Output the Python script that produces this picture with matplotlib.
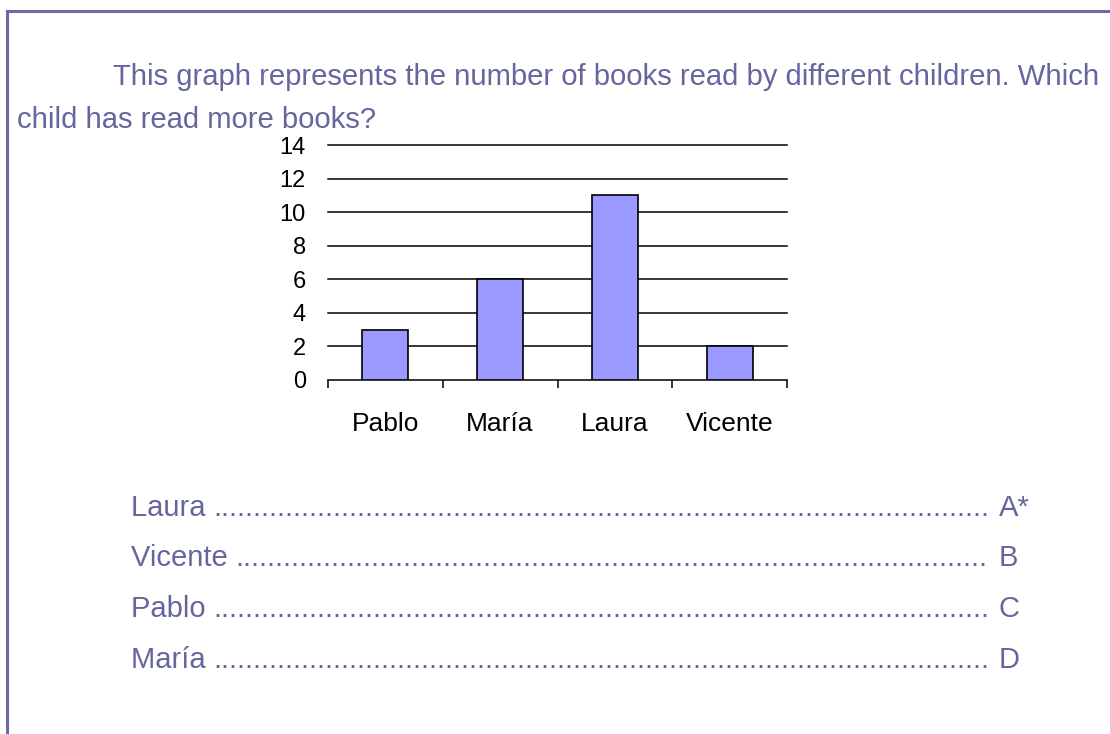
import matplotlib.pyplot as plt
from matplotlib.lines import Line2D

plt.rcParams['font.family'] = ['Liberation Sans', 'DejaVu Sans']

# books read per child
children = ['Pablo', 'María', 'Laura', 'Vicente']
books = [3, 6, 11, 2]
y_ticks = [0, 2, 4, 6, 8, 10, 12, 14]

# answer options
options = ['Laura', 'Vicente', 'Pablo', 'María']
option_keys = ['A*', 'B', 'C', 'D']

question_1 = 'This graph represents the number of books read by different children. Which'
question_2 = 'child has read more books?'

W, H = 1110, 734
text_color = '#66669e'
frame_color = '#6b6ba3'
bar_color = '#9999ff'

fig = plt.figure(figsize=(W / 100, H / 100), dpi=100)

def fx(px):
    return px / W

def fy(py):
    return 1 - py / H

# frame: top and left rules
fig.add_artist(Line2D([fx(7), 1], [fy(11), fy(11)], color=frame_color, lw=2.2,
                      transform=fig.transFigure))
fig.add_artist(Line2D([fx(7), fx(7)], [fy(11), 0], color=frame_color, lw=2.2,
                      transform=fig.transFigure))

# question
fig.text(fx(113), fy(85), question_1, color=text_color, fontsize=21.1, va='baseline')
fig.text(fx(17), fy(128), question_2, color=text_color, fontsize=21.1, va='baseline')

# bar chart
ax = fig.add_axes([fx(328), fy(380), fx(787) - fx(328), fy(145) - fy(380)])
x = range(len(children))
ax.bar(x, books, width=0.4, color=bar_color, edgecolor='black', linewidth=1.2, zorder=3)
ax.set_xlim(-0.5, len(children) - 0.5)
ax.set_ylim(0, 14)
for v in y_ticks[1:]:
    ax.axhline(v, color='black', lw=1.1, zorder=1, clip_on=False)

for s in ['top', 'right', 'left']:
    ax.spines[s].set_visible(False)
ax.spines['bottom'].set_linewidth(1.1)

ax.set_yticks(y_ticks)
ax.set_yticklabels([str(v) for v in y_ticks], fontsize=17)
ax.tick_params(axis='y', length=0, pad=16)

ax.set_xticks(list(x))
ax.set_xticklabels(children, fontsize=19)
ax.set_xticks([i - 0.5 for i in range(len(children) + 1)], minor=True)
ax.tick_params(axis='x', which='major', length=0, pad=23)
ax.tick_params(axis='x', which='minor', length=6, width=1.1, direction='out')
ax.set_facecolor('none')

# answer options with dot leaders
renderer = fig.canvas.get_renderer()
dot = fig.text(0, 0, '.' * 100, fontsize=21)
dot_w = dot.get_window_extent(renderer).width / 100
dot.remove()

key_x = 999
for i, (name, key) in enumerate(zip(options, option_keys)):
    base = fy(516 + i * 50.5)
    t = fig.text(fx(131), base, name + ' ', color=text_color, fontsize=21, va='baseline')
    end = t.get_window_extent(renderer).x1
    n = int((key_x - 4 - end) / dot_w)
    fig.text(fx(end), base, '.' * n, color=text_color, fontsize=21, va='baseline')
    fig.text(fx(key_x), base, key, color=text_color, fontsize=21, va='baseline')

fig.savefig('out.png', dpi=100)
